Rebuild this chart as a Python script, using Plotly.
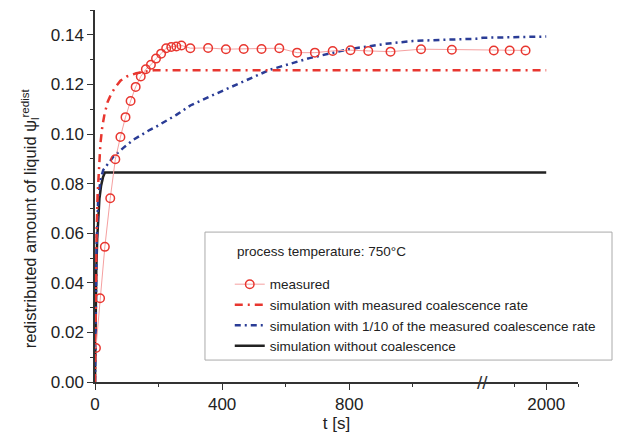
import numpy as np
import plotly.graph_objects as go

# --- DATA (time in real seconds) ---
t_measured = [3, 16, 31, 48, 64, 80, 96, 112, 128, 144, 160, 176, 192, 208, 224,
              240, 256, 272, 300, 356, 412, 468, 524, 580, 636, 692, 748, 804,
              860, 930, 1026, 1123, 1835, 1885, 1935]
psi_measured = [0.0137, 0.0338, 0.0545, 0.0741, 0.0898, 0.0988, 0.1068, 0.1133,
                0.1190, 0.1232, 0.1261, 0.1279, 0.1304, 0.1324, 0.1346, 0.1351,
                0.1353, 0.1357, 0.1346, 0.1347, 0.1342, 0.1343, 0.1343, 0.1346,
                0.1328, 0.1328, 0.1335, 0.1338, 0.1335, 0.1332, 0.1342, 0.1340,
                0.1337, 0.1337, 0.1337]

t_sim_rate = [0, 2, 5, 8, 12, 17, 23, 30, 40, 52, 65, 80, 100, 130, 160, 185, 2000]
psi_sim_rate = [0, 0.035, 0.060, 0.075, 0.087, 0.096, 0.103, 0.108, 0.113, 0.1165,
                0.119, 0.1215, 0.1232, 0.1245, 0.1252, 0.1257, 0.1257]

t_sim_tenth = [0, 2, 5, 10, 18, 26, 40, 58, 90, 120, 173, 193, 256, 300, 361, 420,
               476, 550, 675, 800, 911, 1000, 1100, 1200, 1800, 1900, 2000]
psi_sim_tenth = [0, 0.030, 0.055, 0.074, 0.082, 0.0855, 0.088, 0.0909, 0.0945,
                 0.0976, 0.1017, 0.1030, 0.1077, 0.1115, 0.1151, 0.1185, 0.1215,
                 0.1259, 0.1306, 0.1342, 0.1363, 0.1375, 0.1380, 0.1384, 0.1388,
                 0.1390, 0.1393]

t_sim_none = [0, 2, 4, 7, 10, 14, 19, 25, 31, 2000]
psi_sim_none = [0, 0.028, 0.045, 0.058, 0.067, 0.074, 0.079, 0.0825, 0.0845, 0.0845]

x_major_ticks = [0, 400, 800, 2000]
x_minor_ticks = [200, 600, 1000, 1900, 2100]

# --- AXIS BREAK ---
BREAK_AT = 1220   # axis is cut here
GAP = 580         # seconds left out by the break


def to_disp(t):
    t = np.asarray(t, dtype=float)
    return np.where(t <= BREAK_AT, t, t - GAP)


FONT = "Liberation Sans, Arial, sans-serif"
C_RED = '#e8362f'
C_BLUE = '#2a3c96'
C_BLACK = '#222222'

fig = go.Figure()

fig.add_trace(go.Scatter(
    x=to_disp(t_sim_none), y=psi_sim_none, mode='lines',
    line=dict(color=C_BLACK, width=2.5),
    name='simulation without coalescence', legendrank=4
))
fig.add_trace(go.Scatter(
    x=to_disp(t_sim_tenth), y=psi_sim_tenth, mode='lines',
    line=dict(color=C_BLUE, width=2.5, dash='6px,4px,2px,4px'),
    name='simulation with 1/10 of the measured coalescence rate', legendrank=3
))
fig.add_trace(go.Scatter(
    x=to_disp(t_sim_rate), y=psi_sim_rate, mode='lines',
    line=dict(color=C_RED, width=2.5, dash='8px,5px,2px,5px'),
    name='simulation with measured coalescence rate', legendrank=2
))
fig.add_trace(go.Scatter(
    x=to_disp(t_measured), y=psi_measured, mode='lines+markers',
    line=dict(color='rgb(245,160,160)', width=1),
    marker=dict(symbol='circle-open', size=8.5, color=C_RED, line=dict(width=1.5, color=C_RED)),
    name='measured', legendrank=1
))

# legend frame (wider than plotly's own legend box)
fig.add_shape(type='rect', xref='paper', yref='paper',
              x0=0.2277, x1=1.0704, y0=0.059, y1=0.403,
              line=dict(color='#aaaaaa', width=1), fillcolor='white', layer='below')

fig.add_annotation(x=0.29, y=0.352, xref='paper', yref='paper',
                   text='process temperature: 750°C', showarrow=False,
                   xanchor='left', yanchor='middle',
                   font=dict(family=FONT, size=13.5, color='#222'))

# y axis title, placed a bit below the axis middle as in the original
fig.add_annotation(x=-0.1346, y=0.44, xref='paper', yref='paper',
                   text='redistributed amount of liquid ψ<sub>l</sub><sup>redist</sup>',
                   textangle=-90, showarrow=False, xanchor='center', yanchor='middle',
                   font=dict(family=FONT, size=16.5, color='#222'))

# axis break marks
fig.add_annotation(x=float(to_disp(BREAK_AT)), y=0, xref='x', yref='y',
                   text='//', showarrow=False, font=dict(family=FONT, size=19, color='#333'),
                   xanchor='center', yanchor='middle')

# the page body adds an 8px offset, so the figure is 8px smaller
fig.update_layout(
    width=635, height=431,
    margin=dict(l=87, r=65, t=2, b=57),
    paper_bgcolor='white', plot_bgcolor='white',
    font=dict(family=FONT, color='#222'),
    showlegend=True,
    legend=dict(
        x=0.279, y=0.304, xanchor='left', yanchor='top',
        bgcolor='rgba(0,0,0,0)', borderwidth=0,
        font=dict(family=FONT, size=13.5, color='#222'),
        tracegroupgap=0, itemwidth=30,
    ),
)

fig.update_xaxes(
    range=[0, float(to_disp(2100))], automargin=False,
    tickmode='array', tickvals=to_disp(x_major_ticks), ticktext=[str(v) for v in x_major_ticks],
    ticks='outside', ticklen=6, tickwidth=1.2, tickcolor='#333',
    minor=dict(tickmode='array', tickvals=to_disp(x_minor_ticks), ticks='outside',
               ticklen=3, tickwidth=1.2, tickcolor='#333', showgrid=False),
    showline=True, linecolor='#333', linewidth=1.5,
    showgrid=False, zeroline=False,
    tickfont=dict(family=FONT, size=17, color='#222'),
    title=dict(text='t [s]', font=dict(family=FONT, size=17, color='#222'), standoff=4),
)
fig.update_yaxes(
    range=[0, 0.15], automargin=False,
    tickmode='linear', tick0=0, dtick=0.02, tickformat='.2f',
    ticks='outside', ticklen=6, tickwidth=1.2, tickcolor='#333',
    minor=dict(dtick=0.01, ticks='outside', ticklen=3, tickwidth=1.2, tickcolor='#333', showgrid=False),
    showline=True, linecolor='#333', linewidth=1.5,
    showgrid=False, zeroline=False,
    tickfont=dict(family=FONT, size=17, color='#222'),
)

fig.write_html("out.html")
